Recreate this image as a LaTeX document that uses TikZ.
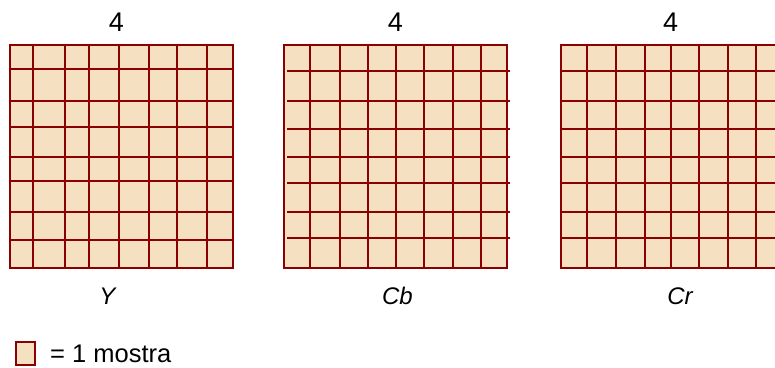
\documentclass[tikz,border=0pt]{standalone}
\usepackage{fontspec}
\setmainfont{Liberation Sans}
\definecolor{gridred}{HTML}{8B0000}
\definecolor{samplefill}{HTML}{F5E1C2}

\begin{document}
\begin{tikzpicture}[x=1pt, y=-1pt, every node/.style={font=\fontsize{24}{28}\selectfont, inner sep=0pt},
    block/.style={draw=gridred, fill=samplefill, line width=2pt},
    gline/.style={draw=gridred, line width=2pt}]
    \useasboundingbox (0,0) rectangle (775,367);
    \clip (0,0) rectangle (775,367);
    % Y block
    \draw[block] (9.5,45) rectangle (232.7,268);
    \foreach \x in {33.3,65.3,89.3,119,148.7,177,207}
      \draw[gline] (\x,45) -- (\x,268);
    \foreach \y in {69,100.7,127,156.7,180.7,212.3,240}
      \draw[gline] (9.5,\y) -- (232.7,\y);
    % Cb block
    \draw[block] (284,45) rectangle (507.3,268);
    \foreach \x in {310.3,340,368,396,424,453.3,481.3}
      \draw[gline] (\x,45) -- (\x,268);
    \foreach \y in {71,100.7,128.7,156.7,182.7,212.3,238.3}
      \draw[gline] (287.3,\y) -- (510,\y);
    % Cr block
    \draw[block] (560.7,45) rectangle (784,268);
    \foreach \x in {586.7,616.3,644.7,670.7,698.7,728,756}
      \draw[gline] (\x,45) -- (\x,268);
    \foreach \y in {71,100.7,128.7,156.7,182.7,212.3,238.3}
      \draw[gline] (560.7,\y) -- (784,\y);
    % labels
    \node[anchor=base, font=\fontsize{27}{30}\selectfont] (ycount) at (116.5,31) {4};
    \node[anchor=base, font=\fontsize{27}{30}\selectfont] (cbcount) at (395.5,31) {4};
    \node[anchor=base, font=\fontsize{27}{30}\selectfont] (crcount) at (670.5,31) {4};
    \node[anchor=base] (ylabel) at (107.5,304) {\itshape Y};
    \node[anchor=base] (cblabel) at (397.5,304) {\itshape Cb};
    \node[anchor=base] (crlabel) at (680,304) {\itshape Cr};
    % legend
    \draw[block] (16,342) rectangle (35,365);
    \node[anchor=base west, font=\fontsize{25.5}{30}\selectfont] (legend) at (50,362) {= 1 mostra};
\end{tikzpicture}
\end{document}
